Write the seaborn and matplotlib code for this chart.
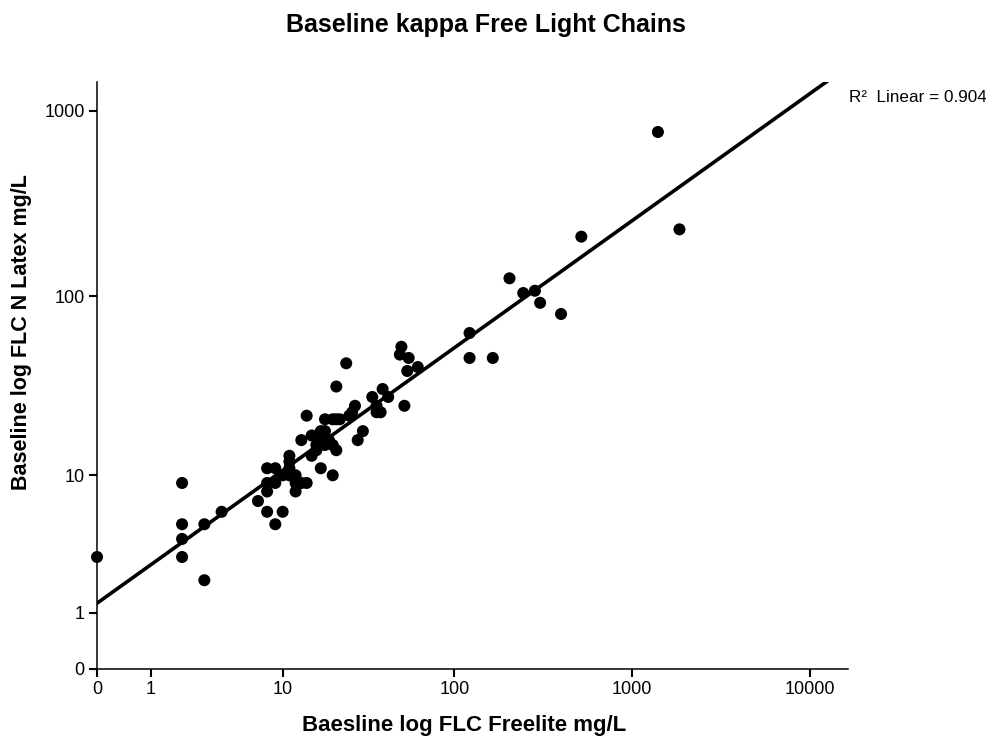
import numpy as np
import pandas as pd
import matplotlib
matplotlib.use("Agg")
import matplotlib.pyplot as plt
import seaborn as sns

# data: baseline FLC (mg/L), Freelite vs N Latex
freelite = [0, 2, 2, 2, 2, 3, 3, 4, 7, 8, 9, 10, 8, 8, 8, 9, 9, 10, 11, 11, 11, 12, 12, 12,
            13, 14, 14, 13, 15, 16, 17, 18, 19, 21, 20, 15, 16, 17, 18, 11, 17, 20, 18, 20,
            21, 22, 25, 21, 24, 27, 26, 30, 28, 34, 36, 36, 38, 39, 42, 52, 50, 49, 55, 54,
            62, 122, 122, 165, 205, 245, 285, 305, 400, 520, 1400, 1850]
nlatex = [3, 9, 5, 4, 3, 5, 2, 6, 7, 6, 5, 6, 11, 9, 8, 11, 9, 10, 13, 11, 10, 9, 8, 10,
          9, 9, 22, 16, 17, 15, 18, 18, 16, 14, 15, 13, 14, 16, 15, 12, 11, 10, 21, 21,
          21, 21, 22, 32, 43, 25, 23, 18, 16, 28, 25, 23, 23, 31, 28, 25, 53, 48, 46, 39,
          41, 63, 46, 46, 125, 104, 107, 92, 80, 210, 770, 230]

tick_vals_x = [0, 1, 10, 100, 1000, 10000]
tick_vals_y = [0, 1, 10, 100, 1000]
title = "Baseline kappa Free Light Chains"
xlabel = "Baesline log FLC Freelite mg/L"
ylabel = "Baseline log FLC N Latex mg/L"
r2_text = "R\u00b2  Linear = 0.904"

def tr(v):
    return np.log10(np.asarray(v, dtype=float) + 1.0)

df = pd.DataFrame({"u": tr(freelite), "v": tr(nlatex)})

sns.set_style("white")
plt.rcParams["font.family"] = ["Liberation Sans", "DejaVu Sans"]
plt.rcParams["text.color"] = "black"

fig = plt.figure(figsize=(9.87, 7.37), dpi=100)
ax = fig.add_axes([0.0983, 0.0923, 0.7609, 0.7965])

ax.set_xlim(0, 4.11)
sns.regplot(data=df, x="u", y="v", ax=ax, ci=None, truncate=False,
            scatter_kws=dict(s=75, color="black", edgecolor="none", alpha=1,
                             clip_on=False, zorder=3),
            line_kws=dict(color="black", lw=2.6))
ax.set_xlim(0, 4.213)
ax.set_ylim(0, 3.156)

ax.set_xticks(tr(tick_vals_x))
ax.set_xticklabels([str(t) for t in tick_vals_x])
ax.set_yticks(tr(tick_vals_y))
ax.set_yticklabels([str(t) for t in tick_vals_y])
ax.tick_params(axis="both", direction="out", length=6, width=1.5, color="black",
               labelsize=13, labelcolor="black", pad=3,
               bottom=True, left=True)

for s in ["top", "right"]:
    ax.spines[s].set_visible(False)
for s in ["left", "bottom"]:
    ax.spines[s].set_color("black")
    ax.spines[s].set_linewidth(1.1)

ax.set_xlabel(xlabel, fontsize=16, fontweight="bold", color="black", va="center")
ax.xaxis.set_label_coords(0.4887, -0.097)
ax.set_ylabel(ylabel, fontsize=15.5, fontweight="bold", color="black", va="center")
ax.yaxis.set_label_coords(-0.0999, 0.574)
fig.text(0.4925, 0.966, title, fontsize=18, fontweight="bold", ha="center", va="center",
         color="black")
fig.text(0.860, 0.868, r2_text, fontsize=12.3, ha="left", va="center", color="black")

fig.savefig("out.png", dpi=100)
